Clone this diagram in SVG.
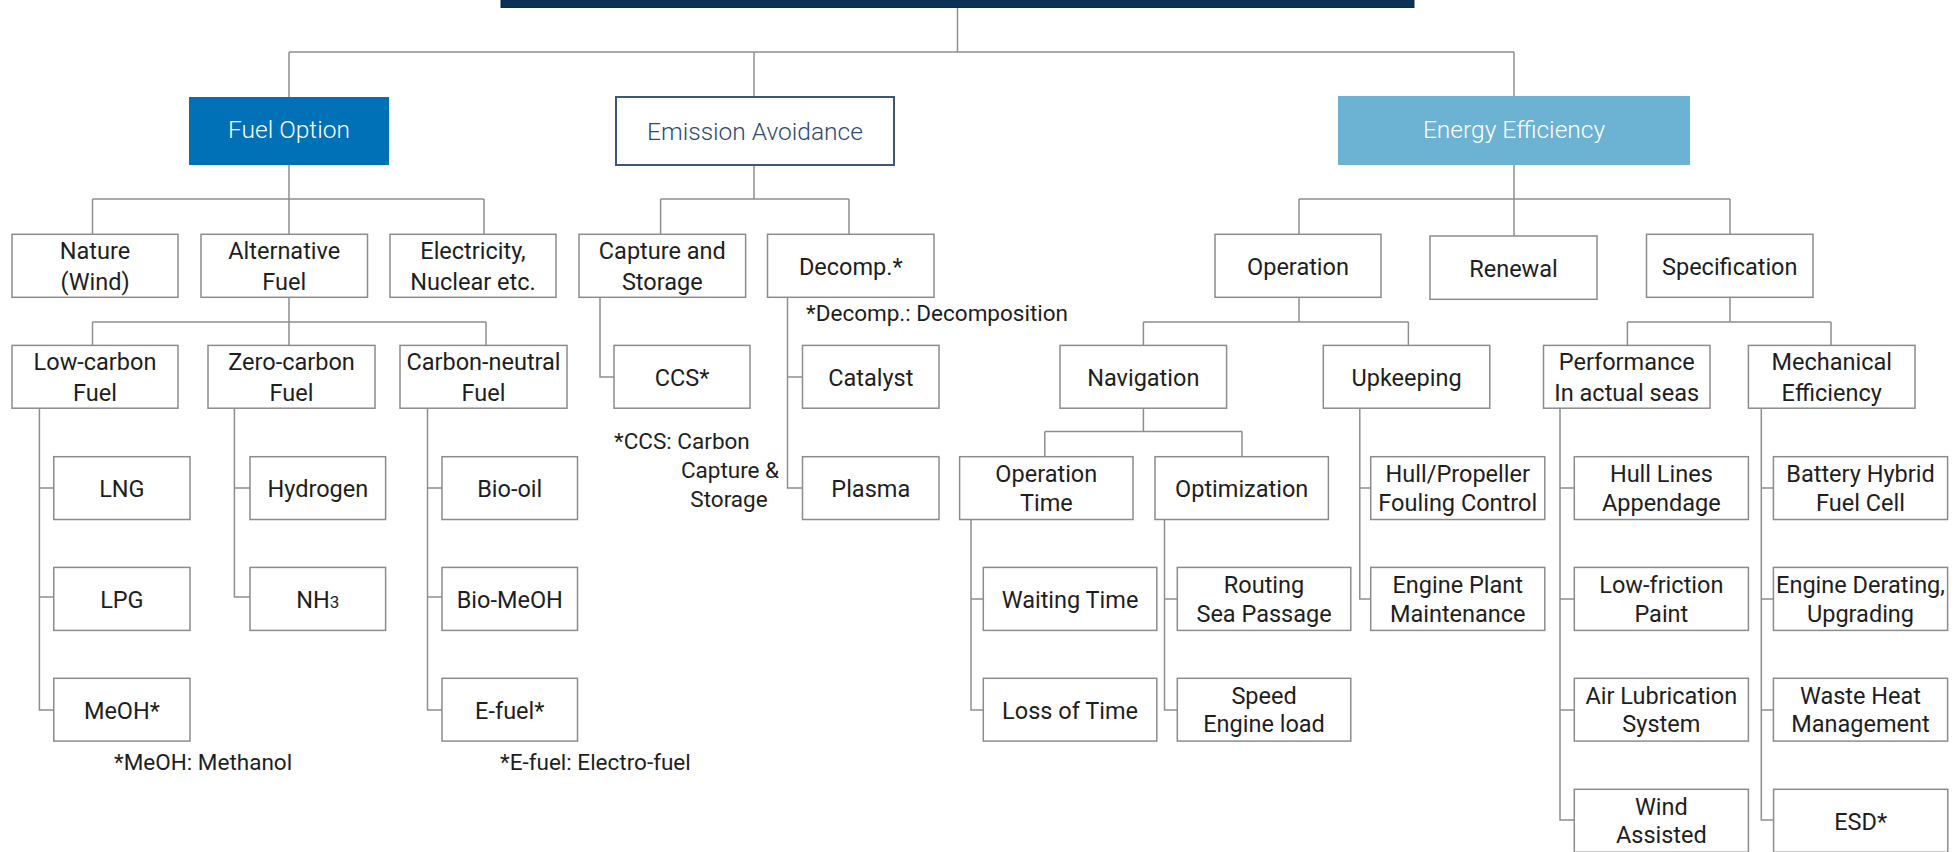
<svg xmlns="http://www.w3.org/2000/svg" width="1954" height="852" viewBox="0 0 1954 852">
<style>
.bx{fill:#ffffff;stroke:#8c8c8c;stroke-width:1.5}
.t{font-family:Roboto,"Open Sans","Liberation Sans",sans-serif;font-size:23.5px;fill:#1e1e1e;text-anchor:middle}
.h{font-family:Roboto,"Open Sans","Liberation Sans",sans-serif;font-size:24.5px;font-weight:300;text-anchor:middle}
.fn{font-family:Roboto,"Open Sans","Liberation Sans",sans-serif;font-size:22.5px;fill:#1e1e1e}
.ln{fill:none;stroke:#8e8e8e;stroke-width:1.5}
</style>
<rect width="1954" height="852" fill="#ffffff"/>
<g id="connectors" class="ln">
<path d="M957.5 7.5V52M289 52H1514M289 52V97M754 52V97M1514 52V96"/>
<path d="M289 165V199M92.5 199H484M92.5 199V234.3M289 199V234.3M484 199V234.3"/>
<path d="M754 165V199M660.6 199H849M660.6 199V234.3M849 199V234.3"/>
<path d="M1514 165V199M1299 199H1730M1299 199V234.3M1514 199V236M1730 199V234.3"/>
<path d="M289 297.3V322M92.5 322H486M92.5 322V345.4M289 322V345.4M486 322V345.4"/>
<path d="M1299 297.3V322M1143.4 322H1408.4M1143.4 322V345.4M1408.4 322V345.4"/>
<path d="M1730 297.3V322M1627.4 322H1831M1627.4 322V345.4M1831 322V345.4"/>
<path d="M600 297.3V377H614"/>
<path d="M787.5 297.3V488H802.5M787.5 377H802.5"/>
<path d="M1143.4 408.2V431.6M1044.8 431.6H1242M1044.8 431.6V456.7M1242 431.6V456.7"/>
<path d="M39.4 408.2V710H53.75M39.4 488H53.75M39.4 597H53.75"/>
<path d="M234.4 408.2V597H250M234.4 488H250"/>
<path d="M427.5 408.2V710H442M427.5 488H442M427.5 597H442"/>
<path d="M971 519.5V710H983.3M971 599H983.3"/>
<path d="M1164.5 519.5V710H1177.3M1164.5 599H1177.3"/>
<path d="M1359.8 408.2V599H1370.7M1359.8 488H1370.7"/>
<path d="M1560 408.2V820H1574.3M1560 488H1574.3M1560 599H1574.3M1560 710H1574.3"/>
<path d="M1761.3 408.2V820H1773.4M1761.3 488H1773.4M1761.3 599H1773.4M1761.3 710H1773.4"/>
</g>
<g id="root"><rect x="501" y="-20" width="913" height="27.5" fill="#0b3158" stroke="#0a2a4d" stroke-width="1"/></g>
<g id="fuel-option"><rect x="189" y="97" width="200" height="68" fill="#0071b6"/><text class="h" x="289" y="138.3" fill="#ffffff">Fuel Option</text></g>
<g id="emission-avoidance"><rect x="616" y="97" width="278" height="68" fill="#ffffff" stroke="#3e5679" stroke-width="2"/><text class="h" x="755" y="139.5" fill="#2f4a6d">Emission Avoidance</text></g>
<g id="energy-efficiency"><rect x="1338" y="96" width="352" height="69" fill="#6cb2d3"/><text class="h" x="1514" y="138" fill="#ffffff">Energy Efficiency</text></g>

<g id="nature"><rect class="bx" x="12" y="234.3" width="166" height="63"/><text class="t" x="95" y="258.6">Nature</text><text class="t" x="95" y="289.6">(Wind)</text></g>
<g id="alternative-fuel"><rect class="bx" x="201" y="234.3" width="166.5" height="63"/><text class="t" x="284.25" y="258.6">Alternative</text><text class="t" x="284.25" y="289.6">Fuel</text></g>
<g id="electricity"><rect class="bx" x="390" y="234.3" width="166" height="63"/><text class="t" x="473" y="258.6">Electricity,</text><text class="t" x="473" y="289.6">Nuclear etc.</text></g>
<g id="capture-storage"><rect class="bx" x="579" y="234.3" width="166.6" height="63"/><text class="t" x="662.3" y="258.6">Capture and</text><text class="t" x="662.3" y="289.6">Storage</text></g>
<g id="decomp"><rect class="bx" x="767.5" y="234.3" width="166.5" height="63"/><text class="t" x="850.75" y="274.5">Decomp.*</text></g>
<g id="operation"><rect class="bx" x="1215" y="234.3" width="166" height="63"/><text class="t" x="1298" y="274.5">Operation</text></g>
<g id="renewal"><rect class="bx" x="1430" y="236" width="167" height="63.3"/><text class="t" x="1513.5" y="276.5">Renewal</text></g>
<g id="specification"><rect class="bx" x="1646.5" y="234.3" width="166.5" height="63"/><text class="t" x="1729.75" y="274.5">Specification</text></g>

<g id="low-carbon"><rect class="bx" x="12" y="345.4" width="166" height="62.8"/><text class="t" x="95" y="369.6">Low-carbon</text><text class="t" x="95" y="400.6">Fuel</text></g>
<g id="zero-carbon"><rect class="bx" x="208" y="345.4" width="167" height="62.8"/><text class="t" x="291.5" y="369.6">Zero-carbon</text><text class="t" x="291.5" y="400.6">Fuel</text></g>
<g id="carbon-neutral"><rect class="bx" x="400" y="345.4" width="167" height="62.8"/><text class="t" x="483.5" y="369.6">Carbon-neutral</text><text class="t" x="483.5" y="400.6">Fuel</text></g>
<g id="ccs"><rect class="bx" x="614" y="345.4" width="136" height="62.8"/><text class="t" x="682" y="385.5">CCS*</text></g>
<g id="catalyst"><rect class="bx" x="802.5" y="345.4" width="136.5" height="62.8"/><text class="t" x="870.75" y="385.5">Catalyst</text></g>
<g id="navigation"><rect class="bx" x="1060" y="345.4" width="166.6" height="62.8"/><text class="t" x="1143.3" y="385.5">Navigation</text></g>
<g id="upkeeping"><rect class="bx" x="1323.3" y="345.4" width="166.5" height="62.8"/><text class="t" x="1406.55" y="385.5">Upkeeping</text></g>
<g id="performance"><rect class="bx" x="1543.5" y="345.4" width="166.5" height="62.8"/><text class="t" x="1626.75" y="369.6">Performance</text><text class="t" x="1626.75" y="400.6">In actual seas</text></g>
<g id="mechanical"><rect class="bx" x="1748.4" y="345.4" width="166.6" height="62.8"/><text class="t" x="1831.7" y="369.6">Mechanical</text><text class="t" x="1831.7" y="400.6">Efficiency</text></g>

<g id="lng"><rect class="bx" x="53.75" y="456.7" width="136.25" height="62.8"/><text class="t" x="121.9" y="496.5">LNG</text></g>
<g id="hydrogen"><rect class="bx" x="250" y="456.7" width="135.6" height="62.8"/><text class="t" x="317.8" y="496.5">Hydrogen</text></g>
<g id="bio-oil"><rect class="bx" x="442" y="456.7" width="135.5" height="62.8"/><text class="t" x="509.75" y="496.5">Bio-oil</text></g>
<g id="plasma"><rect class="bx" x="802.5" y="456.7" width="136.5" height="62.8"/><text class="t" x="870.75" y="496.5">Plasma</text></g>
<g id="operation-time"><rect class="bx" x="959.6" y="456.7" width="173.4" height="62.8"/><text class="t" x="1046.3" y="482.1">Operation</text><text class="t" x="1046.3" y="510.6">Time</text></g>
<g id="optimization"><rect class="bx" x="1155" y="456.7" width="173.4" height="62.8"/><text class="t" x="1241.7" y="496.5">Optimization</text></g>
<g id="hull-propeller"><rect class="bx" x="1370.7" y="456.7" width="174.1" height="62.8"/><text class="t" x="1457.75" y="482.1">Hull/Propeller</text><text class="t" x="1457.75" y="510.6">Fouling Control</text></g>
<g id="hull-lines"><rect class="bx" x="1574.3" y="456.7" width="174.1" height="62.8"/><text class="t" x="1661.35" y="482.1">Hull Lines</text><text class="t" x="1661.35" y="510.6">Appendage</text></g>
<g id="battery-hybrid"><rect class="bx" x="1773.4" y="456.7" width="174.2" height="62.8"/><text class="t" x="1860.5" y="482.1">Battery Hybrid</text><text class="t" x="1860.5" y="510.6">Fuel Cell</text></g>

<g id="lpg"><rect class="bx" x="53.75" y="567.4" width="136.25" height="63"/><text class="t" x="121.9" y="607.5">LPG</text></g>
<g id="nh3"><rect class="bx" x="250" y="567.4" width="135.6" height="63"/><text class="t" x="317.8" y="607.5">NH<tspan font-size="17">3</tspan></text></g>
<g id="bio-meoh"><rect class="bx" x="442" y="567.4" width="135.5" height="63"/><text class="t" x="509.75" y="607.5">Bio-MeOH</text></g>
<g id="waiting-time"><rect class="bx" x="983.3" y="567.4" width="173.5" height="63"/><text class="t" x="1070.05" y="607.5">Waiting Time</text></g>
<g id="routing"><rect class="bx" x="1177.3" y="567.4" width="173.5" height="63"/><text class="t" x="1264.05" y="593">Routing</text><text class="t" x="1264.05" y="621.5">Sea Passage</text></g>
<g id="engine-plant"><rect class="bx" x="1370.7" y="567.4" width="174.1" height="63"/><text class="t" x="1457.75" y="593">Engine Plant</text><text class="t" x="1457.75" y="621.5">Maintenance</text></g>
<g id="low-friction"><rect class="bx" x="1574.3" y="567.4" width="174.1" height="63"/><text class="t" x="1661.35" y="593">Low-friction</text><text class="t" x="1661.35" y="621.5">Paint</text></g>
<g id="engine-derating"><rect class="bx" x="1773.4" y="567.4" width="174.2" height="63"/><text class="t" x="1860.5" y="593">Engine Derating,</text><text class="t" x="1860.5" y="621.5">Upgrading</text></g>

<g id="meoh"><rect class="bx" x="53.75" y="678.3" width="136.25" height="62.8"/><text class="t" x="121.9" y="718.5">MeOH*</text></g>
<g id="e-fuel"><rect class="bx" x="442" y="678.3" width="135.5" height="62.8"/><text class="t" x="509.75" y="718.5">E-fuel*</text></g>
<g id="loss-of-time"><rect class="bx" x="983.3" y="678.3" width="173.5" height="62.8"/><text class="t" x="1070.05" y="718.5">Loss of Time</text></g>
<g id="speed"><rect class="bx" x="1177.3" y="678.3" width="173.5" height="62.8"/><text class="t" x="1264.05" y="703.7">Speed</text><text class="t" x="1264.05" y="732.2">Engine load</text></g>
<g id="air-lubrication"><rect class="bx" x="1574.3" y="678.3" width="174.1" height="62.8"/><text class="t" x="1661.35" y="703.7">Air Lubrication</text><text class="t" x="1661.35" y="732.2">System</text></g>
<g id="waste-heat"><rect class="bx" x="1773.4" y="678.3" width="174.2" height="62.8"/><text class="t" x="1860.5" y="703.7">Waste Heat</text><text class="t" x="1860.5" y="732.2">Management</text></g>

<g id="wind-assisted"><rect class="bx" x="1574.3" y="789.3" width="174.1" height="63"/><text class="t" x="1661.35" y="814.8">Wind</text><text class="t" x="1661.35" y="843.3">Assisted</text></g>
<g id="esd"><rect class="bx" x="1773.6" y="789.3" width="174.2" height="63"/><text class="t" x="1860.7" y="830">ESD*</text></g>

<g id="footnotes">
<text class="fn" x="806" y="320.5">*Decomp.: Decomposition</text>
<text class="fn" x="614" y="448.8">*CCS: Carbon</text>
<text class="fn" x="730" y="477.8" text-anchor="middle">Capture &amp;</text>
<text class="fn" x="729" y="506.5" text-anchor="middle">Storage</text>
<text class="fn" x="114" y="770">*MeOH: Methanol</text>
<text class="fn" x="500" y="770">*E-fuel: Electro-fuel</text>
</g>
</svg>
